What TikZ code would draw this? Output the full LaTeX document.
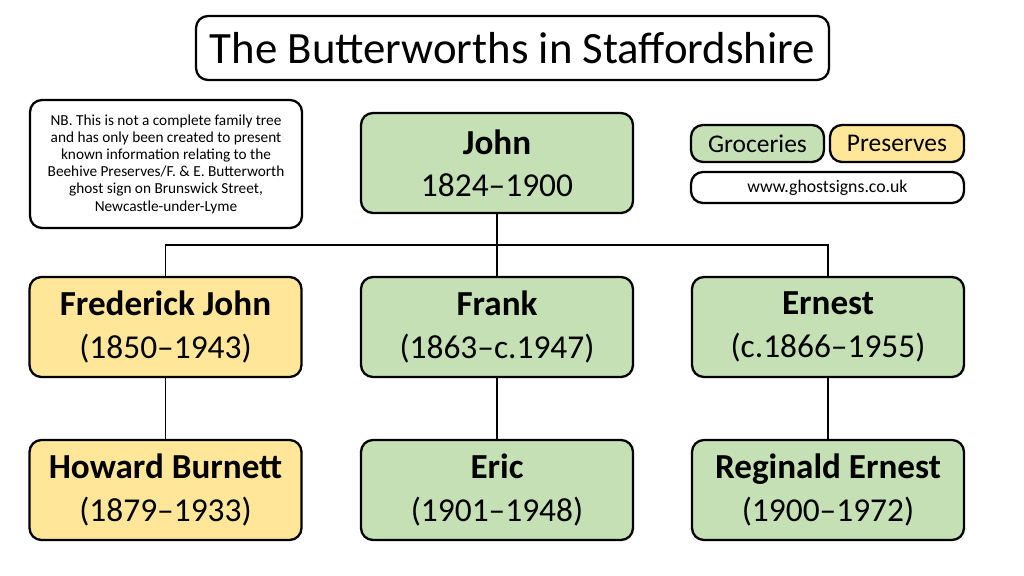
\documentclass[tikz,border=0pt]{standalone}
\usepackage{fontspec}
\setmainfont{Carlito}
\usepackage{xcolor}
\usepackage{tikz}
\usetikzlibrary{calc,positioning}
\definecolor{grocery}{RGB}{197,224,180}
\definecolor{preserve}{RGB}{255,230,153}
\tikzset{
  box/.style={draw=black,line width=1.3pt,rounded corners=0.24cm,align=center,inner sep=0pt},
  person/.style={box,minimum width=5.44cm,minimum height=2cm,font=\fontsize{19}{24}\selectfont},
  link/.style={line width=1.1pt}
}
\newcommand{\who}[2]{{\fontsize{20}{24}\selectfont\textbf{#1}}\\#2}

\begin{document}
\begin{tikzpicture}
\useasboundingbox[fill=white] (0,0) rectangle (20.48,11.52);
\node[box,minimum width=12.66cm,minimum height=1.28cm,font=\fontsize{25.5}{30}\selectfont] (title) at (10.25,10.56) {The Butterworths in Staffordshire};
\node[box,minimum width=5.44cm,minimum height=2.56cm,font=\fontsize{8.7}{9.8}\selectfont] (nb) at (3.32,8.24) {NB. This is not a complete family tree\\and has only been created to present\\known information relating to the\\Beehive Preserves/F. \& E. Butterworth\\ghost sign on Brunswick Street,\\Newcastle-under-Lyme};
% legend
\node[box,fill=grocery,minimum width=2.66cm,minimum height=0.74cm,font=\fontsize{14.5}{16}\selectfont] (groceries) at (15.15,8.65) {Groceries};
\node[box,fill=preserve,minimum width=2.68cm,minimum height=0.74cm,font=\fontsize{14.5}{16}\selectfont] (preserves) at (17.94,8.65) {Preserves};
\node[box,minimum width=5.46cm,minimum height=0.62cm,font=\fontsize{10.1}{12}\selectfont] (web) at (16.55,7.77) {www.ghostsigns.co.uk};
% tree
\node[person,fill=grocery] (john) at (9.94,8.26) {\who{John}{1824--1900}};
\node[person,fill=preserve] (fj) at (3.31,4.98) {\who{Frederick John}{(1850--1943)}};
\node[person,fill=grocery] (frank) at (9.94,4.98) {\who{Frank}{(1863--c.1947)}};
\node[person,fill=grocery] (ernest) at (16.56,4.98) {\who{Ernest}{(c.1866--1955)}};
\node[person,fill=preserve] (howard) at (3.31,1.72) {\who{Howard Burnett}{(1879--1933)}};
\node[person,fill=grocery] (eric) at (9.94,1.72) {\who{Eric}{(1901--1948)}};
\node[person,fill=grocery] (reginald) at (16.56,1.72) {\who{Reginald Ernest}{(1900--1972)}};
\coordinate (bus) at (9.94,6.62);
\draw[link] (john.south) -- (frank.north);
\draw[link] (fj.north) |- (bus) -| (ernest.north);
\draw[link] (fj.south) -- (howard.north);
\draw[link] (frank.south) -- (eric.north);
\draw[link] (ernest.south) -- (reginald.north);
\end{tikzpicture}
\end{document}
